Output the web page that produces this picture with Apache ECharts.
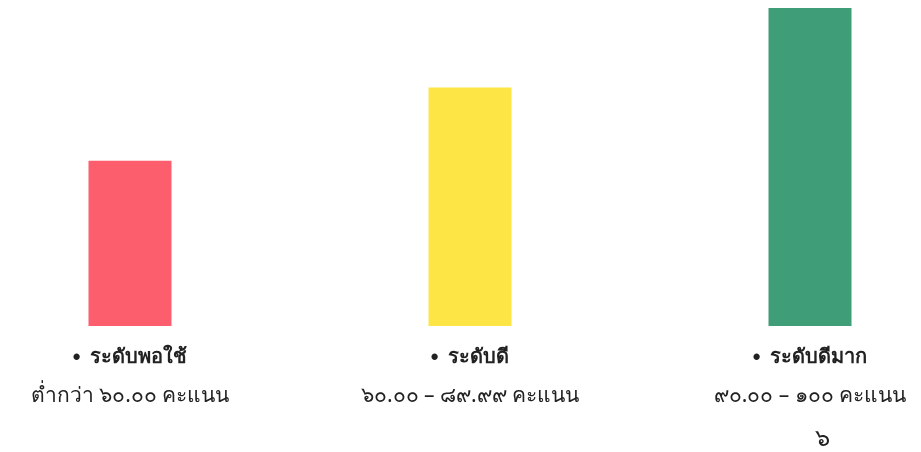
<!DOCTYPE html>
<html>
<head>
<meta charset="utf-8">
<script src="https://cdn.jsdelivr.net/npm/echarts@6/dist/echarts.min.js"></script>
<style>html,body{margin:0;padding:0;background:#fff}#c{width:921px;height:452px}</style>
</head>
<body>
<div id="c"></div>
<script>
const categories = ['ระดับพอใช้', 'ระดับดี', 'ระดับดีมาก'];
const ranges = ['ต่ำกว่า ๖๐.๐๐ คะแนน', '๖๐.๐๐ – ๘๙.๙๙ คะแนน', '๙๐.๐๐ – ๑๐๐ คะแนน'];
const values = [52, 75, 100];
const colors = ['#FC5E6E', '#FCE545', '#3F9D78'];
const pageNumber = '๖';

const chart = echarts.init(document.getElementById('c'));
chart.setOption({
  backgroundColor: '#ffffff',
  animation: false,
  title: {
    text: pageNumber, left: 810, top: 422,
    textStyle: { fontSize: 24, fontWeight: 'normal', color: '#222', fontFamily: 'Noto Sans, sans-serif' }
  },
  grid: { left: 130, right: 111, top: 8, bottom: 126 },
  xAxis: {
    type: 'category',
    data: categories,
    boundaryGap: false,
    axisLine: { show: false },
    axisTick: { show: false },
    axisLabel: {
      margin: 12,
      interval: 0,
      lineHeight: 39,
      formatter: function (v, i) {
        return '{b|•}   {n|' + v + '}\n{r|' + ranges[i] + '}';
      },
      rich: {
        b: { fontSize: 22, color: '#222', fontWeight: 'bold', lineHeight: 39 },
        n: { fontSize: 20, color: '#222', fontWeight: 'bold', lineHeight: 39, fontFamily: 'Noto Sans, sans-serif' },
        r: { fontSize: 21, color: '#222', lineHeight: 39, fontFamily: 'Noto Sans, sans-serif' }
      }
    }
  },
  yAxis: {
    type: 'value', min: 0, max: 100, show: false,
    splitLine: { show: false }
  },
  series: [{
    type: 'bar',
    barWidth: 83,
    data: values.map((v, i) => ({ value: v, itemStyle: { color: colors[i] } }))
  }]
});
</script>
</body>
</html>
